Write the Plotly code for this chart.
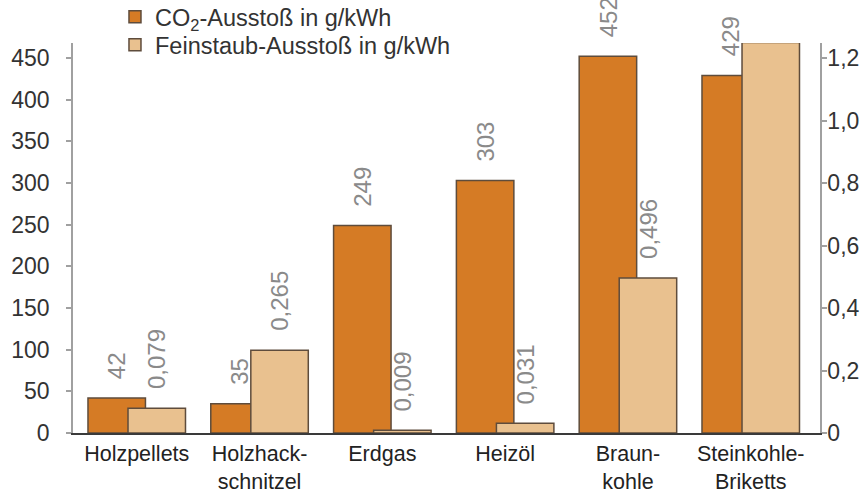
import plotly.graph_objects as go

categories = ["Holzpellets", "Holzhack-<br>schnitzel", "Erdgas", "Heizöl", "Braun-<br>kohle", "Steinkohle-<br>Briketts"]
co2_values = [42, 35, 249, 303, 452, 429]
co2_labels = ["42", "35", "249", "303", "452", "429"]
fein_values = [0.079, 0.265, 0.009, 0.031, 0.496, 1.25]
fein_labels = ["0,079", "0,265", "0,009", "0,031", "0,496", "1,25"]
left_ticks = [0, 50, 100, 150, 200, 250, 300, 350, 400, 450]
right_ticks = [0, 0.2, 0.4, 0.6, 0.8, 1.0, 1.2]
right_tick_text = ["0", "0,2", "0,4", "0,6", "0,8", "1,0", "1,2"]

CO2_COLOR = "#D57B25"
FEIN_COLOR = "#E9C18F"
EDGE = "#5E4C3C"
FONT = "Liberation Sans, Arial, sans-serif"

x = list(range(len(categories)))
W = 0.468
OFF_CO2 = -0.397
OFF_FEIN = -0.071

fig = go.Figure()
fig.add_trace(go.Bar(
    x=x, y=co2_values, name="CO<sub>2</sub>-Ausstoß in g/kWh",
    width=W, offset=OFF_CO2, yaxis="y", legend="legend",
    marker=dict(color=CO2_COLOR, line=dict(color=EDGE, width=1.5)),
    hoverinfo="skip",
))
fig.add_trace(go.Bar(
    x=x, y=fein_values, name="Feinstaub-Ausstoß in g/kWh",
    width=W, offset=OFF_FEIN, yaxis="y2", legend="legend2",
    marker=dict(color=FEIN_COLOR, line=dict(color=EDGE, width=1.5)),
    hoverinfo="skip",
))

annotations = []
for i in x:
    annotations.append(dict(
        x=i + OFF_CO2 + W / 2, y=co2_values[i], xref="x", yref="y",
        text=co2_labels[i], textangle=-90, showarrow=False,
        xanchor="center", yanchor="bottom", yshift=17,
        font=dict(family=FONT, size=24, color="#8A8A8A"),
    ))
    annotations.append(dict(
        x=i + OFF_FEIN + W / 2, y=fein_values[i], xref="x", yref="y2",
        text=fein_labels[i], textangle=-90, showarrow=False,
        xanchor="center", yanchor="bottom", yshift=17,
        font=dict(family=FONT, size=24, color="#8A8A8A"),
    ))

legend_style = dict(
    xanchor="left", yanchor="middle",
    font=dict(family=FONT, size=23.5, color="#333333"),
    bgcolor="rgba(0,0,0,0)", itemclick=False, itemdoubleclick=False,
)

fig.update_layout(
    width=862, height=495,
    margin=dict(l=73, r=42, t=43, b=62, autoexpand=False),
    paper_bgcolor="white", plot_bgcolor="white",
    barmode="overlay",
    font=dict(family=FONT, size=22, color="#333333"),
    showlegend=True,
    legend=dict(x=0.0562, y=1.0667, **legend_style),
    legend2=dict(x=0.0562, y=0.9949, **legend_style),
    xaxis=dict(
        range=[-0.519, 5.564], tickmode="array", tickvals=x, ticktext=categories,
        showgrid=False, zeroline=False, showline=True, linecolor="#3A3A3A", linewidth=2,
        ticks="", ticklabelstandoff=0,
        tickfont=dict(family=FONT, size=21.5, color="#222222"), fixedrange=True,
    ),
    yaxis=dict(
        range=[0, 468], tickmode="array", tickvals=left_ticks,
        showgrid=False, zeroline=False, showline=True, linecolor="#A0A0A0", linewidth=1.5,
        ticks="outside", ticklen=5, tickcolor="#A0A0A0", tickwidth=1.5, ticklabelstandoff=12,
        tickfont=dict(family=FONT, size=23, color="#333333"), fixedrange=True,
    ),
    yaxis2=dict(
        range=[0, 1.248], tickmode="array", tickvals=right_ticks, ticktext=right_tick_text,
        overlaying="y", side="right",
        showgrid=False, zeroline=False, showline=True, linecolor="#A0A0A0", linewidth=1.5,
        ticks="outside", ticklen=5, tickcolor="#A0A0A0", tickwidth=1.5, ticklabelstandoff=-4,
        tickfont=dict(family=FONT, size=23, color="#333333"), fixedrange=True,
    ),
    annotations=annotations,
)

# remove the browser's default 8px page margin so the figure fills the window
fig.write_html(
    "out.html",
    config={"displayModeBar": False},
    post_script="document.body.style.margin='0';document.body.style.overflow='hidden';",
)
